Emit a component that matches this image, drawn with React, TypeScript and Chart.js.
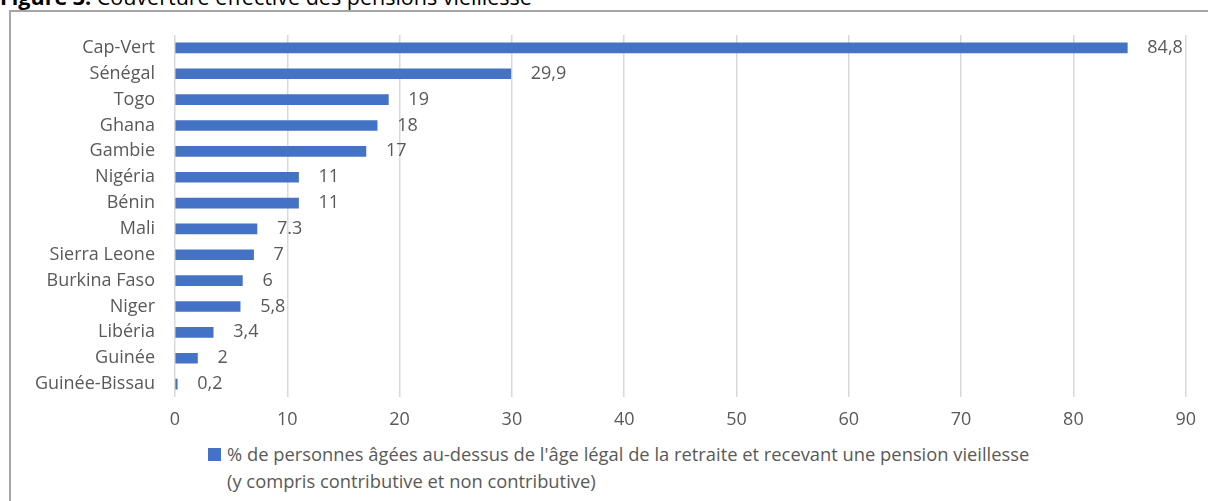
import React, { useEffect, useRef } from "react";
import { Chart, registerables } from "chart.js";

Chart.register(...registerables);

const countries = [
  "Cap-Vert",
  "Sénégal",
  "Togo",
  "Ghana",
  "Gambie",
  "Nigéria",
  "Bénin",
  "Mali",
  "Sierra Leone",
  "Burkina Faso",
  "Niger",
  "Libéria",
  "Guinée",
  "Guinée-Bissau",
];
const coverage = [84.8, 29.9, 19, 18, 17, 11, 11, 7.3, 7, 6, 5.8, 3.4, 2, 0.2];
const valueLabels = ["84,8", "29,9", "19", "18", "17", "11", "11", "7.3", "7", "6", "5,8", "3,4", "2", "0,2"];
const seriesName = "% de personnes âgées au-dessus de l'âge légal de la retraite et recevant une pension vieillesse";
const seriesName2 = "(y compris contributive et non contributive)";
const xTicks = [0, 10, 20, 30, 40, 50, 60, 70, 80, 90];

const FONT = "'Open Sans', 'Noto Sans', sans-serif";
const GREY = "#595959";
const BLUE = "#4472C4";

const valueLabelPlugin = {
  id: "valueLabels",
  afterDatasetsDraw(chart: any) {
    const ctx = chart.ctx;
    const meta = chart.getDatasetMeta(0);
    ctx.save();
    ctx.font = `18px ${FONT}`;
    ctx.fillStyle = GREY;
    ctx.textAlign = "left";
    ctx.textBaseline = "middle";
    meta.data.forEach((bar: any, i: number) => {
      ctx.fillText(valueLabels[i], bar.x + 20, bar.y);
    });
    ctx.restore();
  },
};

export default function App() {
  const ref = useRef<HTMLCanvasElement>(null);

  useEffect(() => {
    document.body.style.margin = "0";
    document.body.style.overflow = "hidden";
    const chart = new Chart(ref.current!, {
      type: "bar",
      data: {
        labels: countries,
        datasets: [
          {
            label: seriesName,
            data: coverage,
            backgroundColor: BLUE,
            barThickness: 10,
          },
        ],
      },
      options: {
        indexAxis: "y",
        animation: false,
        responsive: false,
        maintainAspectRatio: false,
        layout: { padding: { top: 35, right: 21, bottom: 0, left: 0 } },
        plugins: {
          legend: { display: false },
          tooltip: { enabled: false },
        },
        scales: {
          x: {
            min: 0,
            max: 90,
            afterBuildTicks: (scale: any) => {
              scale.ticks = xTicks.map((v) => ({ value: v }));
            },
            afterFit: (scale: any) => {
              scale.height = 43;
            },
            ticks: {
              font: { family: FONT, size: 18 },
              color: GREY,
              padding: 12,
            },
            grid: { color: "#d9d9d9", lineWidth: 1.5, drawTicks: false },
            border: { display: false },
          },
          y: {
            afterFit: (scale: any) => {
              scale.width = 175;
            },
            ticks: {
              font: { family: FONT, size: 18 },
              color: GREY,
              padding: 20,
            },
            grid: { display: false, drawTicks: false },
            border: { display: false },
          },
        },
      },
      plugins: [valueLabelPlugin],
    });
    return () => chart.destroy();
  }, []);

  return (
    <div style={{ position: "fixed", left: 0, top: 0, width: 1208, height: 501, overflow: "hidden", background: "#fff" }}>
      <div
        style={{
          position: "absolute",
          left: 0,
          top: -16,
          fontFamily: FONT,
          fontSize: 21.5,
          lineHeight: "26px",
          color: "#000",
          whiteSpace: "nowrap",
        }}
      >
        <b>Figure 3:</b> Couverture effective des pensions vieillesse
      </div>
      <div
        style={{
          position: "absolute",
          left: 9,
          top: 10,
          width: 1220,
          height: 520,
          border: "2.5px solid #a6a6a6",
        }}
      />
      <canvas ref={ref} width={1208} height={440} style={{ position: "absolute", left: 0, top: 0 }} />
      <div style={{ position: "absolute", left: 208, top: 448, width: 13, height: 13, background: BLUE }} />
      <div
        style={{
          position: "absolute",
          left: 227,
          top: 441,
          fontFamily: FONT,
          fontSize: 19,
          lineHeight: "27px",
          color: GREY,
          whiteSpace: "nowrap",
          transform: "scaleX(0.965)",
          transformOrigin: "left top",
        }}
      >
        <div>{seriesName}</div>
        <div>{seriesName2}</div>
      </div>
    </div>
  );
}
